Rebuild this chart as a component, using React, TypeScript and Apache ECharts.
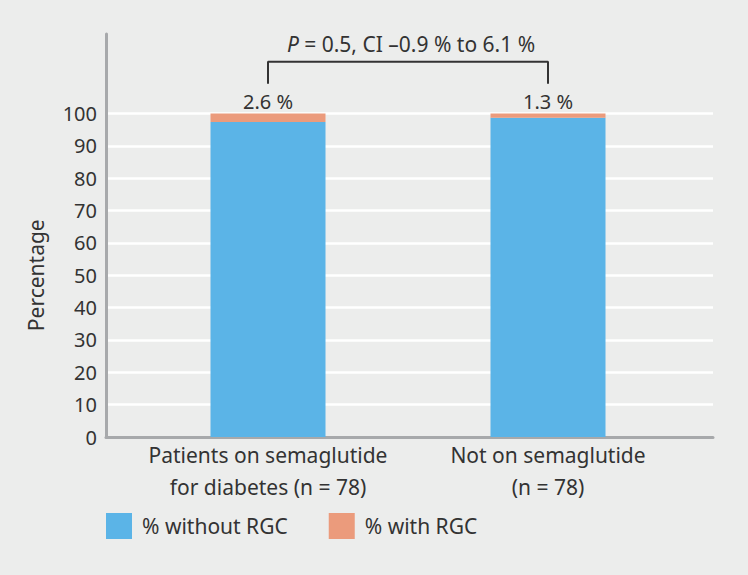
import React, { useEffect, useRef } from "react";
import * as echarts from "echarts";

const categories = ["Patients on semaglutide\nfor diabetes (n = 78)", "Not on semaglutide\n(n = 78)"];
const withoutRGC = [97.4, 98.7];
const withRGC = [2.6, 1.3];
const seriesNames = ["% without RGC", "% with RGC"];
const yTicks = [0, 100, 10];
const bracketCats = [0, 0, 1, 1];
const bracketVals = [109.2, 116, 116, 109.2];
const annotation = "{i|P} = 0.5, CI \u20130.9 % to 6.1 %";

const FONT = "'Noto Sans', sans-serif";
const TXT = "#333333";

export default function App() {
  const ref = useRef<HTMLDivElement>(null);
  useEffect(() => {
    if (!ref.current) return;
    const chart = echarts.init(ref.current, null, { renderer: "svg" });
    const gridTop = 113.5;
    const gridBottom = 138;
    chart.setOption({
      animation: false,
      backgroundColor: "#ecedec",
      textStyle: { fontFamily: FONT, color: TXT },
      grid: [
        { left: 106, right: 35, top: 34, bottom: gridBottom },
        { left: 106, right: 35, top: gridTop, bottom: gridBottom },
        { left: 128, right: 60, top: gridTop, bottom: gridBottom },
      ],
      xAxis: [
        {
          type: "value", gridIndex: 0, min: 0, max: 1,
          axisLine: { show: true, lineStyle: { color: "#a7a9ab", width: 3 } },
          axisTick: { show: false }, axisLabel: { show: false }, splitLine: { show: false },
        },
        {
          type: "value", gridIndex: 1, min: 0, max: 1, show: false,
        },
        {
          type: "category", gridIndex: 2, data: categories,
          axisLine: { show: false }, axisTick: { show: false },
          axisLabel: { fontSize: 21, lineHeight: 32, color: TXT, fontFamily: FONT, margin: 2, interval: 0 },
        },
      ],
      yAxis: [
        {
          type: "value", gridIndex: 0, min: 0, max: 1,
          axisLine: { show: true, lineStyle: { color: "#a7a9ab", width: 3 } },
          axisTick: { show: false }, axisLabel: { show: false }, splitLine: { show: false },
        },
        {
          type: "value", gridIndex: 1, min: yTicks[0], max: yTicks[1], interval: yTicks[2],
          axisLine: { show: false }, axisTick: { show: false },
          axisLabel: { fontSize: 20, color: TXT, fontFamily: FONT, margin: 9 },
          splitLine: { show: true, lineStyle: { color: "#ffffff", width: 2.5 } },
          name: "Percentage", nameLocation: "middle", nameGap: 60,
          nameTextStyle: { fontSize: 21, color: TXT, fontFamily: FONT },
        },
        {
          type: "value", gridIndex: 2, min: yTicks[0], max: yTicks[1], show: false,
        },
      ],
      legend: {
        data: seriesNames,
        left: 101, top: 508, icon: "rect", itemWidth: 26, itemHeight: 26, itemGap: 41,
        textStyle: { fontSize: 21, color: TXT, fontFamily: FONT, padding: [0, 0, 0, 5] },
      },
      graphic: [
        {
          type: "text", x: 411, y: 44,
          style: {
            text: annotation, fontSize: 21, fontFamily: FONT, fill: TXT,
            align: "center", verticalAlign: "middle",
            rich: { i: { fontStyle: "italic", fontSize: 21, fontFamily: FONT, fill: TXT } },
          },
        },
      ],
      series: [
        {
          name: seriesNames[0], type: "bar", stack: "a", xAxisIndex: 2, yAxisIndex: 2,
          data: withoutRGC, barWidth: 115, itemStyle: { color: "#5bb4e7" },
        },
        {
          name: seriesNames[1], type: "bar", stack: "a", xAxisIndex: 2, yAxisIndex: 2,
          data: withRGC, barWidth: 115, itemStyle: { color: "#eb9b7c" },
          label: {
            show: true, position: "top", distance: 2, fontSize: 20, color: TXT, fontFamily: FONT,
            formatter: (p: any) => `${p.value} %`,
          },
        },
        {
          type: "line", xAxisIndex: 2, yAxisIndex: 2, clip: false, symbol: "none",
          data: bracketCats.map((c, i) => [c, bracketVals[i]]),
          lineStyle: { color: "#333333", width: 2 }, silent: true,
        },
      ],
    });
    return () => chart.dispose();
  }, []);
  return <div ref={ref} style={{ position: "fixed", left: 0, top: 0, width: 748, height: 575 }} />;
}
